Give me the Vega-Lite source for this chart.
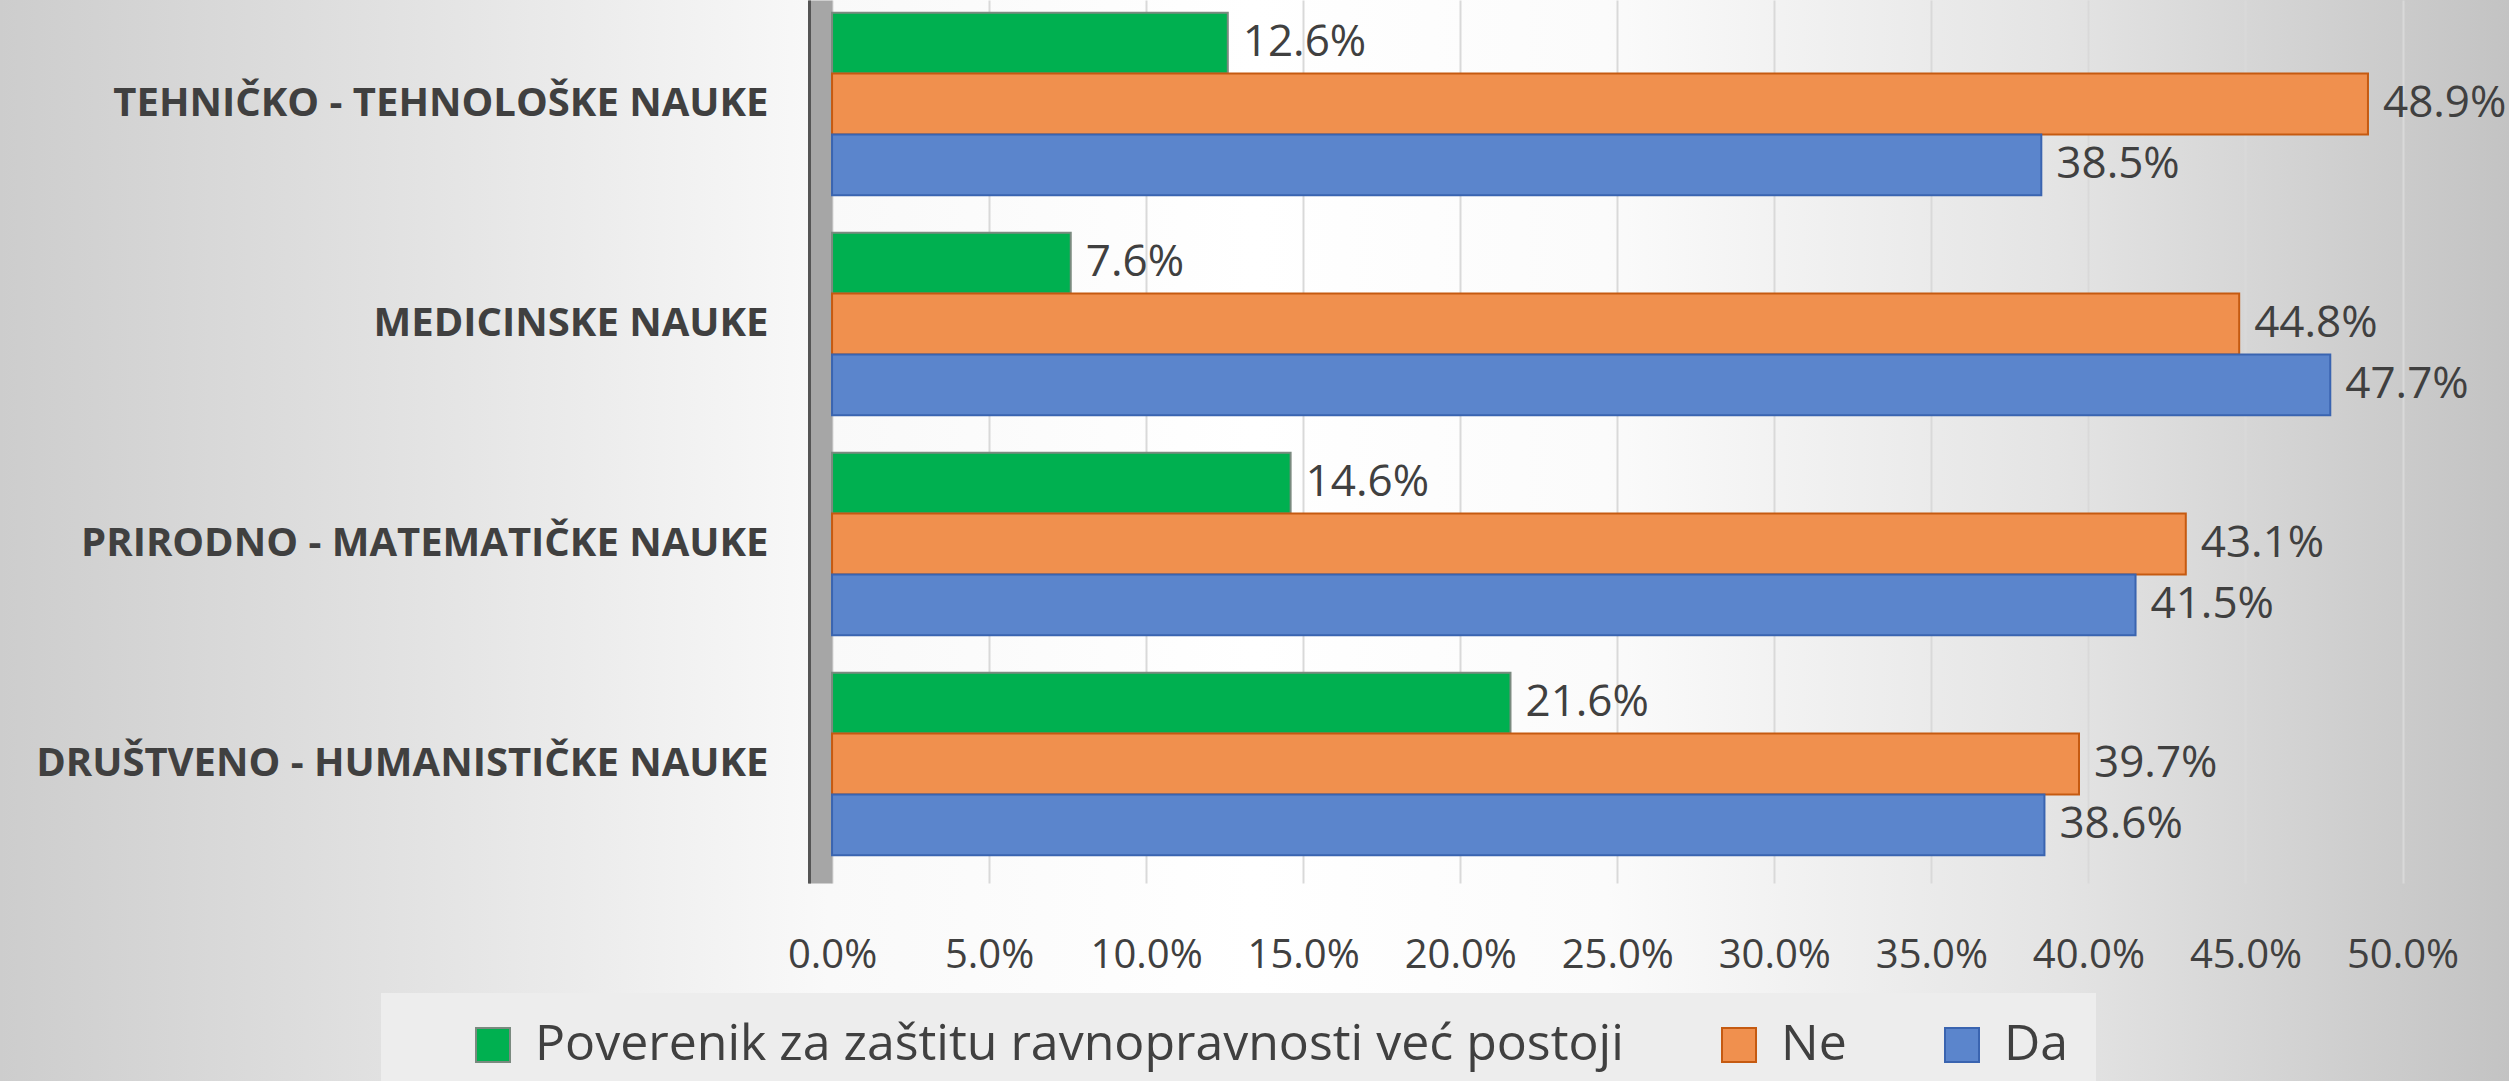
{
  "$schema": "https://vega.github.io/schema/vega-lite/v6.json",
  "width": 2509,
  "height": 1081,
  "autosize": {"type": "none"},
  "padding": 0,
  "background": "#dadada",
  "config": {
    "font": "Open Sans",
    "view": {
      "stroke": null,
      "fill": {
        "gradient": "linear", "x1": 0, "y1": 0, "x2": 1, "y2": 0,
        "stops": [
          {"offset": 0, "color": "#cdcdcd"},
          {"offset": 0.16, "color": "#e2e2e2"},
          {"offset": 0.33, "color": "#f9f9f9"},
          {"offset": 0.5, "color": "#ffffff"},
          {"offset": 0.64, "color": "#fbfbfb"},
          {"offset": 0.82, "color": "#e4e4e4"},
          {"offset": 1, "color": "#c3c3c3"}
        ]
      }
    }
  },
  "data": {
    "values": [
      {"area": "TEHNIČKO - TEHNOLOŠKE NAUKE", "series": "Poverenik za zaštitu ravnopravnosti već postoji", "value": 0.126},
      {"area": "TEHNIČKO - TEHNOLOŠKE NAUKE", "series": "Ne", "value": 0.489},
      {"area": "TEHNIČKO - TEHNOLOŠKE NAUKE", "series": "Da", "value": 0.385},
      {"area": "MEDICINSKE NAUKE", "series": "Poverenik za zaštitu ravnopravnosti već postoji", "value": 0.076},
      {"area": "MEDICINSKE NAUKE", "series": "Ne", "value": 0.448},
      {"area": "MEDICINSKE NAUKE", "series": "Da", "value": 0.477},
      {"area": "PRIRODNO - MATEMATIČKE NAUKE", "series": "Poverenik za zaštitu ravnopravnosti već postoji", "value": 0.146},
      {"area": "PRIRODNO - MATEMATIČKE NAUKE", "series": "Ne", "value": 0.431},
      {"area": "PRIRODNO - MATEMATIČKE NAUKE", "series": "Da", "value": 0.415},
      {"area": "DRUŠTVENO - HUMANISTIČKE NAUKE", "series": "Poverenik za zaštitu ravnopravnosti već postoji", "value": 0.216},
      {"area": "DRUŠTVENO - HUMANISTIČKE NAUKE", "series": "Ne", "value": 0.397},
      {"area": "DRUŠTVENO - HUMANISTIČKE NAUKE", "series": "Da", "value": 0.386}
    ]
  },
  "encoding": {
    "yOffset": {
      "field": "series", "type": "nominal",
      "sort": ["Poverenik za zaštitu ravnopravnosti već postoji", "Ne", "Da"],
      "scale": {"paddingInner": 0, "paddingOuter": 0}
    },
    "x": {
      "field": "value", "type": "quantitative",
      "scale": {"domain": [-0.2649, 0.5339], "nice": false, "zero": false},
      "axis": {
        "orient": "top", "offset": -955, "title": null,
        "values": [0, 0.05, 0.1, 0.15, 0.2, 0.25, 0.3, 0.35, 0.4, 0.45, 0.5],
        "format": ".1%", "ticks": false, "domain": false,
        "grid": true, "gridColor": "#d9d9d9", "gridWidth": 2,
        "labelPadding": 0, "labelBaseline": "middle", "labelFontSize": 40,
        "labelColor": "#404040", "labelFlush": false, "labelOverlap": false, "labelFont": "Open Sans"
      }
    }
  },
  "resolve": {"axis": {"y": "independent"}},
  "layer": [
    {
      "mark": {"type": "bar", "strokeWidth": 2},
      "encoding": {
        "y": {
          "field": "area", "type": "nominal",
          "sort": ["TEHNIČKO - TEHNOLOŠKE NAUKE", "MEDICINSKE NAUKE", "PRIRODNO - MATEMATIČKE NAUKE", "DRUŠTVENO - HUMANISTIČKE NAUKE"],
          "scale": {"range": [0, 883], "paddingInner": 0.17, "paddingOuter": 0.0918, "align": 0.314},
          "axis": {
            "orient": "left", "offset": -820, "title": null, "ticks": false, "grid": false,
            "domainColor": "#a6a6a6", "domainWidth": 24,
            "labelPadding": 52, "labelFontSize": 40, "labelFontWeight": "bold",
            "labelColor": "#404040", "labelLimit": 0, "labelFont": "Open Sans"
          }
        },
        "color": {
          "field": "series", "type": "nominal",
          "scale": {"domain": ["Poverenik za zaštitu ravnopravnosti već postoji", "Ne", "Da"], "range": ["#00B050", "#F0904E", "#5B85CC"]},
          "legend": {
            "orient": "none", "legendX": 381, "legendY": 993, "direction": "horizontal", "title": null,
            "symbolType": "square", "symbolSize": 1156, "symbolStrokeWidth": 2,
            "labelFontSize": 50, "labelFont": "Open Sans", "labelColor": "#404040", "labelLimit": 0,
            "labelOffset": 17, "columnPadding": 30, "symbolOffset": 60, "padding": 27,
            "fillColor": "#ededed"
          }
        },
        "stroke": {
          "field": "series", "type": "nominal",
          "scale": {"domain": ["Poverenik za zaštitu ravnopravnosti već postoji", "Ne", "Da"], "range": ["#7a8a7f", "#C55A11", "#3A64B0"]},
          "legend": {
            "orient": "none", "legendX": 381, "legendY": 993, "direction": "horizontal", "title": null,
            "symbolType": "square", "symbolSize": 1156, "symbolStrokeWidth": 2,
            "labelFontSize": 50, "labelFont": "Open Sans", "labelColor": "#404040", "labelLimit": 0,
            "labelOffset": 17, "columnPadding": 30, "symbolOffset": 60, "padding": 27,
            "fillColor": "#ededed"
          }
        }
      }
    },
    {
      "mark": {"type": "text", "align": "left", "baseline": "middle", "dx": 15, "fontSize": 44, "color": "#404040", "font": "Open Sans"},
      "encoding": {
        "y": {
          "field": "area", "type": "nominal",
          "sort": ["TEHNIČKO - TEHNOLOŠKE NAUKE", "MEDICINSKE NAUKE", "PRIRODNO - MATEMATIČKE NAUKE", "DRUŠTVENO - HUMANISTIČKE NAUKE"],
          "axis": {
            "orient": "left", "offset": -809, "title": null, "ticks": false, "grid": false, "labels": false,
            "domainColor": "#555555", "domainWidth": 3
          }
        },
        "text": {"field": "value", "type": "quantitative", "format": ".1%"}
      }
    }
  ]
}
